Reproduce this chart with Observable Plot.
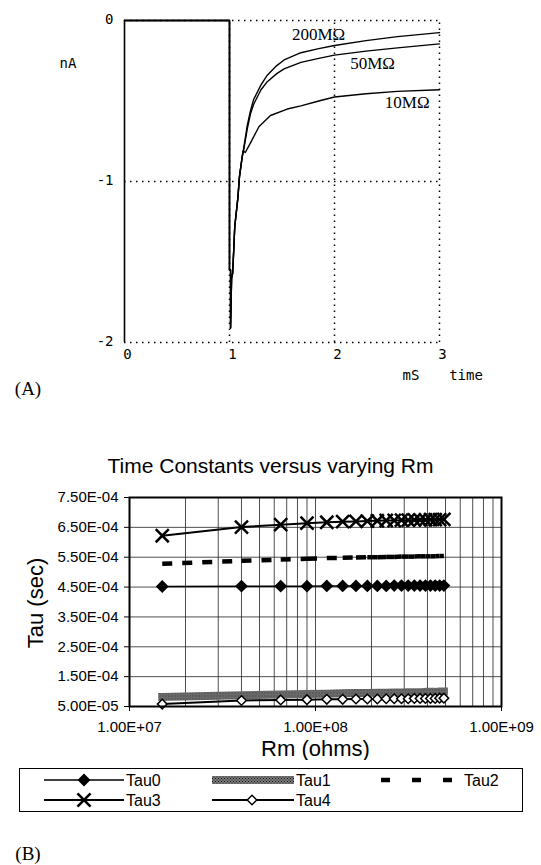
<!DOCTYPE html>
<html><head><meta charset="utf-8">
<script src="https://cdn.jsdelivr.net/npm/d3@7"></script>
<script src="https://cdn.jsdelivr.net/npm/@observablehq/plot@0.6"></script>
<style>
body{margin:0;background:#fff;}
#fig{position:relative;width:541px;height:865px;background:#fff;overflow:hidden;}
.lbl{position:absolute;transform:translate(-50%,-50%);white-space:nowrap;line-height:1;color:#000;}
.mono{font-family:"DejaVu Sans Mono",monospace;font-size:14px;}
.serif{font-family:"Liberation Serif","Times New Roman",serif;font-size:19px;}
#legend{position:absolute;left:19px;top:768px;width:504px;height:44px;border:1px solid #000;box-sizing:border-box;}
</style></head><body>
<div id="fig">
  <div id="panelA" style="position:absolute;left:0;top:0"></div>
  <div id="panelB" style="position:absolute;left:0;top:440px"></div>
  <div class="lbl mono" style="left:68px;top:63px">nA</div>
  <div class="lbl mono" style="left:411px;top:375px">mS</div>
  <div class="lbl mono" style="left:466px;top:375px">time</div>
  <div class="lbl serif" style="left:28px;top:388px">(A)</div>
  <div class="lbl serif" style="left:28px;top:853px">(B)</div>
  <div id="legend"></div>
</div>
<script>
// ---------- Panel A data (time in mS, current in nA) ----------
const tStart = [0, 1, 1, 1.01, 1.01, 1.02, 1.03, 1.04, 1.05, 1.08, 1.095, 1.12];
const iStart = [0, 0, -1.55, -1.55, -1.91, -1.60, -1.57, -1.43, -1.28, -1.10, -0.97, -0.85];
const t200 = [1.136, 1.17, 1.2, 1.23, 1.3, 1.36, 1.45, 1.52, 1.68, 1.85, 2.0, 2.3, 2.6, 3.0];
const i200 = [-0.79, -0.65, -0.56, -0.49, -0.40, -0.34, -0.28, -0.245, -0.20, -0.175, -0.155, -0.125, -0.10, -0.075];
const t50 = [1.136, 1.17, 1.2, 1.23, 1.3, 1.36, 1.45, 1.52, 1.68, 1.85, 2.0, 2.3, 2.6, 3.0];
const i50 = [-0.80, -0.67, -0.58, -0.52, -0.43, -0.38, -0.33, -0.30, -0.26, -0.235, -0.215, -0.19, -0.17, -0.145];
const t10 = [1.13, 1.15, 1.2, 1.28, 1.39, 1.55, 1.68, 1.85, 2.0, 2.3, 2.6, 3.0];
const i10 = [-0.81, -0.82, -0.76, -0.66, -0.59, -0.55, -0.53, -0.50, -0.475, -0.455, -0.44, -0.43];
const curveNames = ["200MΩ", "50MΩ", "10MΩ"];
const labelT = [1.848, 2.362, 2.692];
const labelI = [-0.090, -0.267, -0.512];
const timeTicks = [0, 1, 2, 3];
const currentTicks = [0, -1, -2];

// ---------- Panel B data ----------
const rmValues = [1.5e7, 4e7, 6.5e7, 9e7, 1.15e8, 1.4e8, 1.65e8, 1.9e8, 2.15e8, 2.4e8, 2.65e8, 2.9e8, 3.15e8, 3.4e8, 3.65e8, 3.9e8, 4.15e8, 4.4e8, 4.65e8, 4.9e8];
const tau0 = [4.52e-4, 4.53e-4, 4.53e-4, 4.53e-4, 4.54e-4, 4.54e-4, 4.54e-4, 4.54e-4, 4.54e-4, 4.54e-4, 4.55e-4, 4.55e-4, 4.55e-4, 4.55e-4, 4.55e-4, 4.55e-4, 4.55e-4, 4.55e-4, 4.55e-4, 4.55e-4];
const tau1 = [8.2e-5, 8.8e-5, 9.0e-5, 9.2e-5, 9.3e-5, 9.4e-5, 9.5e-5, 9.5e-5, 9.6e-5, 9.6e-5, 9.7e-5, 9.7e-5, 9.8e-5, 9.8e-5, 9.8e-5, 9.9e-5, 9.9e-5, 9.9e-5, 1.0e-4, 1.0e-4];
const tau2 = [5.28e-4, 5.38e-4, 5.42e-4, 5.45e-4, 5.47e-4, 5.48e-4, 5.49e-4, 5.50e-4, 5.50e-4, 5.51e-4, 5.51e-4, 5.52e-4, 5.52e-4, 5.52e-4, 5.53e-4, 5.53e-4, 5.53e-4, 5.53e-4, 5.54e-4, 5.54e-4];
const tau3 = [6.22e-4, 6.51e-4, 6.59e-4, 6.64e-4, 6.67e-4, 6.69e-4, 6.70e-4, 6.71e-4, 6.72e-4, 6.73e-4, 6.73e-4, 6.74e-4, 6.74e-4, 6.75e-4, 6.75e-4, 6.75e-4, 6.76e-4, 6.76e-4, 6.76e-4, 6.77e-4];
const tau4 = [5.8e-5, 7.0e-5, 7.2e-5, 7.3e-5, 7.4e-5, 7.4e-5, 7.5e-5, 7.5e-5, 7.5e-5, 7.6e-5, 7.6e-5, 7.6e-5, 7.6e-5, 7.7e-5, 7.7e-5, 7.7e-5, 7.7e-5, 7.7e-5, 7.8e-5, 7.8e-5];
const tauTicks = [5e-5, 1.5e-4, 2.5e-4, 3.5e-4, 4.5e-4, 5.5e-4, 6.5e-4, 7.5e-4];
const rmTicks = [1e7, 1e8, 1e9];
const rmGrid = [2e7, 3e7, 4e7, 5e7, 6e7, 7e7, 8e7, 9e7, 1e8, 2e8, 3e8, 4e8, 5e8, 6e8, 7e8, 8e8, 9e8];
const legendNames = ["Tau0", "Tau1", "Tau2", "Tau3", "Tau4"];

// ---------- Panel A ----------
const tails = [[t200, i200], [t50, i50], [t10, i10]];
const rowsA = [];
curveNames.forEach((name, s) => {
  tStart.forEach((t, k) => rowsA.push({series: name, t, i: iStart[k]}));
  tails[s][0].forEach((t, k) => rowsA.push({series: name, t, i: tails[s][1][k]}));
});
const curveLabels = curveNames.map((label, k) => ({label, t: labelT[k], i: labelI[k]}));
const dotted = {stroke: "black", strokeWidth: 1.5, strokeDasharray: "1.5,4.5"};
const mono = "DejaVu Sans Mono, monospace";

const chartA = Plot.plot({
  width: 541, height: 400,
  marginLeft: 124, marginRight: 102, marginTop: 20, marginBottom: 58,
  style: {background: "transparent", fontFamily: mono},
  x: {domain: [0, 3]},
  y: {domain: [-2, 0]},
  marks: [
    Plot.ruleX(timeTicks.slice(1), {y1: -2, y2: 0, ...dotted}),
    Plot.ruleY(currentTicks, {x1: 0, x2: 3, ...dotted}),
    Plot.ruleX([0], {y1: -2, y2: 0, stroke: "black", strokeWidth: 1.6}),
    Plot.line(rowsA, {x: "t", y: "i", z: "series", stroke: "black", strokeWidth: 1.4}),
    Plot.text(curveLabels, {x: "t", y: "i", text: "label", fontFamily: "Liberation Serif, Times New Roman, serif", fontSize: 17, fill: "black"}),
    Plot.axisX({ticks: timeTicks, tickSize: 0, tickPadding: 7, dx: 3, fontSize: 14, fontFamily: mono, label: null, tickFormat: d => String(d)}),
    Plot.axisY({ticks: currentTicks, tickSize: 0, tickPadding: 11, dy: -1, fontSize: 14, fontFamily: mono, label: null, tickFormat: d => String(d)})
  ]
});
document.getElementById("panelA").appendChild(chartA);

// ---------- Panel B ----------
function excelExp(d) {
  const [m, e] = d.toExponential(2).split("e");
  const sign = e[0] === "-" ? "-" : "+";
  return m + "E" + sign + e.replace(/[+-]/, "").padStart(2, "0");
}
const rowsB = rmValues.map((rm, k) => ({rm, tau0: tau0[k], tau1: tau1[k], tau2: tau2[k], tau3: tau3[k], tau4: tau4[k]}));
const sans = "Liberation Sans, Arial, sans-serif";

const chartB = Plot.plot({
  width: 541, height: 320,
  marginLeft: 129, marginRight: 40, marginTop: 57, marginBottom: 54,
  style: {background: "transparent", fontFamily: sans},
  x: {type: "log", domain: [1e7, 1e9]},
  y: {domain: [5e-5, 7.5e-4]},
  marks: [
    Plot.ruleX(rmGrid, {stroke: "#222", strokeWidth: 0.8}),
    Plot.ruleY(tauTicks, {stroke: "#222", strokeWidth: 0.8}),
    Plot.line(rowsB, {x: "rm", y: "tau1", stroke: "url(#hatchTau1)", strokeWidth: 8, strokeLinecap: "square"}),
    Plot.link(d3.pairs(rowsB), {x1: p => p[0].rm, y1: p => p[0].tau2, x2: p => p[1].rm, y2: p => p[1].tau2, stroke: "black", strokeWidth: 4.5, strokeDasharray: "10,10"}),
    Plot.line(rowsB, {x: "rm", y: "tau0", stroke: "black", strokeWidth: 1.5}),
    Plot.dot(rowsB, {x: "rm", y: "tau0", symbol: "diamond2", r: 5.8, fill: "black", stroke: "none"}),
    Plot.line(rowsB, {x: "rm", y: "tau4", stroke: "black", strokeWidth: 2}),
    Plot.dot(rowsB, {x: "rm", y: "tau4", symbol: "diamond2", r: 4.3, fill: "white", stroke: "black", strokeWidth: 1.5}),
    Plot.line(rowsB, {x: "rm", y: "tau3", stroke: "black", strokeWidth: 2}),
    Plot.dot(rowsB, {x: "rm", y: "tau3", symbol: "times", r: 6, fill: "none", stroke: "black", strokeWidth: 2.5}),
    Plot.frame({stroke: "black", strokeWidth: 2}),
    Plot.axisX({ticks: rmTicks, tickSize: 5, tickPadding: 10, fontSize: 15, label: null, tickFormat: excelExp}),
    Plot.axisY({ticks: tauTicks, tickSize: 5, tickPadding: 6, fontSize: 15, label: null, tickFormat: excelExp}),
    Plot.text(["Time Constants versus varying Rm"], {frameAnchor: "top", dx: -45, dy: -31, lineAnchor: "middle", fontSize: 21, fill: "black"}),
    Plot.text(["Rm (ohms)"], {frameAnchor: "bottom", dy: 42, lineAnchor: "middle", fontSize: 22, fill: "black"}),
    Plot.text(["Tau (sec)"], {frameAnchor: "left", dx: -94, dy: 1, rotate: -90, lineAnchor: "middle", textAnchor: "middle", fontSize: 22, fill: "black"})
  ]
});
// hatch pattern for the Tau1 band
const NS = "http://www.w3.org/2000/svg";
function addHatch(svg, id) {
  const defs = document.createElementNS(NS, "defs");
  const pat = document.createElementNS(NS, "pattern");
  pat.setAttribute("id", id); pat.setAttribute("width", "3"); pat.setAttribute("height", "3");
  pat.setAttribute("patternUnits", "userSpaceOnUse");
  [[0, 0, 3, 3, "#7a7a7a"], [0, 0, 1, 1, "#1a1a1a"], [1.5, 1.5, 1, 1, "#1a1a1a"]].forEach(([x, y, w, h, f]) => {
    const r = document.createElementNS(NS, "rect");
    r.setAttribute("x", x); r.setAttribute("y", y); r.setAttribute("width", w); r.setAttribute("height", h); r.setAttribute("fill", f);
    pat.appendChild(r);
  });
  defs.appendChild(pat);
  svg.insertBefore(defs, svg.firstChild);
}
addHatch(chartB, "hatchTau1");
document.getElementById("panelB").appendChild(chartB);

// ---------- Legend ----------
const lg = d3.select("#legend").append("svg").attr("width", 502).attr("height", 42)
  .style("position", "absolute").style("left", "0").style("top", "0")
  .style("font-family", sans).style("font-size", "16px");
addHatch(lg.node(), "hatchLegend");
const rowY = [11, 31];
// Tau0
lg.append("line").attr("x1", 24).attr("x2", 104).attr("y1", rowY[0]).attr("y2", rowY[0]).attr("stroke", "black").attr("stroke-width", 1.5);
lg.append("path").attr("d", d3.symbol(d3.symbolDiamond2, Math.PI * 5.8 * 5.8)()).attr("transform", `translate(64,${rowY[0]})`).attr("fill", "black");
// Tau1
lg.append("line").attr("x1", 192).attr("x2", 274).attr("y1", rowY[0]).attr("y2", rowY[0]).attr("stroke", "url(#hatchLegend)").attr("stroke-width", 8);
// Tau2
lg.append("line").attr("x1", 361).attr("x2", 432).attr("y1", rowY[0]).attr("y2", rowY[0]).attr("stroke", "black").attr("stroke-width", 4.5).attr("stroke-dasharray", "9,22");
// Tau3
lg.append("line").attr("x1", 24).attr("x2", 104).attr("y1", rowY[1]).attr("y2", rowY[1]).attr("stroke", "black").attr("stroke-width", 2);
lg.append("path").attr("d", d3.symbol(d3.symbolTimes, Math.PI * 36)()).attr("transform", `translate(64,${rowY[1]})`).attr("fill", "none").attr("stroke", "black").attr("stroke-width", 2.5);
// Tau4
lg.append("line").attr("x1", 192).attr("x2", 274).attr("y1", rowY[1]).attr("y2", rowY[1]).attr("stroke", "black").attr("stroke-width", 2);
lg.append("path").attr("d", d3.symbol(d3.symbolDiamond2, Math.PI * 4.3 * 4.3)()).attr("transform", `translate(232,${rowY[1]})`).attr("fill", "white").attr("stroke", "black").attr("stroke-width", 1.5);
const textPos = [[106, rowY[0]], [276, rowY[0]], [444, rowY[0]], [106, rowY[1]], [276, rowY[1]]];
legendNames.forEach((name, k) => {
  lg.append("text").attr("x", textPos[k][0]).attr("y", textPos[k][1]).attr("dy", "0.35em").text(name);
});
</script>
</body></html>
